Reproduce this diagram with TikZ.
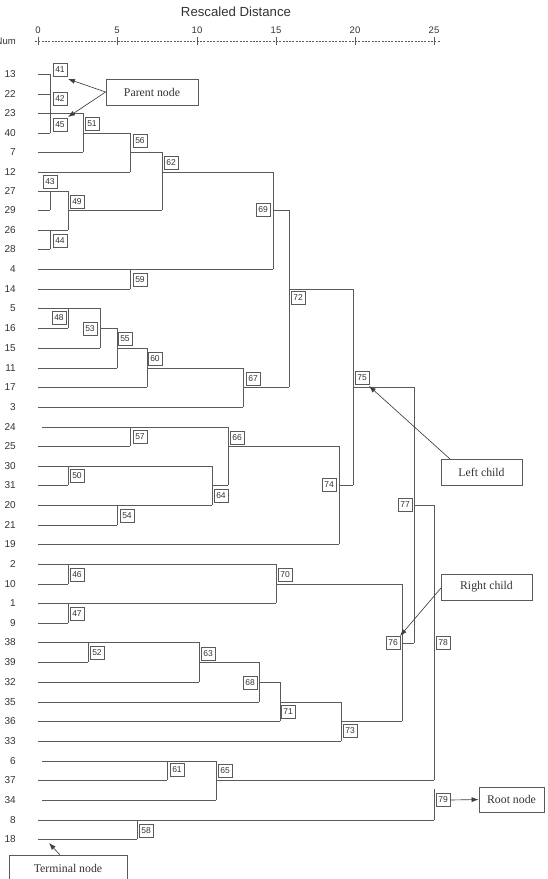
\documentclass[tikz,border=0pt]{standalone}
\usepackage{fontspec}
\setmainfont{Liberation Sans}
\newfontfamily\calloutfont{Liberation Serif}
\usetikzlibrary{arrows.meta}
\definecolor{linecol}{HTML}{5A5A5A}
\definecolor{textcol}{HTML}{333333}
\tikzset{
  dline/.style={draw=linecol, line width=0.85pt},
  leaf/.style={anchor=east, inner sep=0pt, text=textcol, font=\fontsize{10}{10}\selectfont},
  clbox/.style={draw=linecol, line width=0.75pt, minimum width=14pt, minimum height=13pt, inner sep=0pt, text=textcol, font=\fontsize{8.5}{8.5}\selectfont, fill=white},
  callout/.style={draw=linecol, line width=0.75pt, inner sep=0pt, text=textcol, font=\calloutfont\fontsize{11.8}{11.8}\selectfont, fill=white},
  pointer/.style={draw=linecol!70!black, line width=0.65pt, -{Latex[length=7pt,width=5pt]}},
  axislab/.style={inner sep=0pt, text=textcol, font=\fontsize{9.5}{9.5}\selectfont}
}
\begin{document}
\begin{tikzpicture}[x=1pt,y=-1pt]
\useasboundingbox (0,0) rectangle (547,879);
\clip (0,0) rectangle (547,879);
% title and axis
\node[axislab, font=\fontsize{13.2}{13.2}\selectfont] (title) at (236,12) {Rescaled Distance};
\node[axislab, anchor=east] (num) at (16,41) {Num};
\draw[linecol, line width=0.5pt, dash pattern=on 2pt off 1.3pt] (35,41) -- (440,41);
\foreach \v/\x in {0/38,5/117,10/197,15/276,20/355,25/434}{
  \draw[linecol, line width=0.6pt] (\x,37) -- (\x,45);
  \node[axislab] (tick\v) at (\x,30) {\v};
}
% leaf labels
\foreach \n/\y in {13/74,22/94,23/113,40/133,7/152,12/172,27/191,29/210,26/230,28/249,4/269,14/289,5/308,16/328,15/348,11/368,17/387,3/407,24/427,25/446,30/466,31/485,20/505,21/525,19/544,2/564,10/584,1/603,9/623,38/642,39/662,32/682,35/702,36/721,33/741,6/761,37/780,34/800,8/820,18/839}{
  \node[leaf] (L\n) at (16,\y) {\n};
}
% horizontal segments x1/x2/y
\foreach \a/\b/\y in {38/50/74, 38/50/94, 38/83/113, 38/50/133, 83/130/133,
  38/83/152, 130/162/152, 38/130/172, 162/273/172, 38/68/191, 38/50/210, 68/162/210, 273/289/210,
  38/68/230, 38/50/249, 38/273/269, 38/130/289, 289/353/289,
  38/100/308, 38/68/328, 100/117/328, 38/100/348, 117/147/348, 38/117/368, 147/243/368,
  38/147/387, 243/289/387, 353/414/387, 38/243/407,
  42/228/427, 38/130/446, 228/339/446, 38/212/466, 38/68/485, 212/228/485, 339/353/485,
  38/212/505, 414/434/505, 38/117/525, 38/339/544,
  38/276/564, 38/68/584, 276/402/584, 38/276/603, 38/68/623,
  38/199/642, 402/414/643, 38/88/662, 199/259/662, 38/199/682, 259/280/682,
  38/259/702, 280/341/702, 38/280/721, 341/402/721, 38/341/741,
  42/216/761, 38/167/780, 216/434/780, 42/216/800, 38/434/820, 38/137/839}{
  \draw[dline] (\a,\y) -- (\b,\y);
}
% vertical segments x/y1/y2
\foreach \x/\a/\b in {50/74/133, 83/113/152, 130/133/172, 162/152/210, 50/191/210, 68/191/230,
  50/230/249, 273/172/269, 130/269/289, 289/210/387, 68/308/328, 100/308/348, 117/328/368,
  147/348/387, 243/368/407, 130/427/446, 228/427/485, 68/466/485, 212/466/505, 117/505/525,
  339/446/544, 353/289/485, 68/564/584, 276/564/603, 68/603/623, 88/642/662, 199/642/682,
  259/662/702, 280/682/721, 402/584/721, 341/702/741, 414/387/643, 434/505/780,
  167/761/780, 216/761/800, 434/789/820, 137/820/839}{
  \draw[dline] (\x,\a) -- (\x,\b);
}
% cluster boxes
\foreach \n/\x/\y in {41/60/70, 42/60/99, 45/60/125, 51/92/124, 56/140/141, 62/171/163,
  43/50/182, 49/77/202, 44/60/241, 69/263/210, 59/140/280, 72/298/298, 48/59/318, 53/90/329,
  55/125/339, 60/155/359, 67/253/379, 75/362/378, 57/140/437, 66/237/438, 50/77/476,
  74/329/485, 64/221/496, 77/405/505, 54/127/516, 46/77/575, 70/285/575, 47/77/614,
  76/393/643, 78/443/643, 52/97/653, 63/208/654, 68/250/683, 71/288/712, 73/350/731,
  61/177/770, 65/225/771, 79/443/800, 58/146/831}{
  \node[clbox] (b\n) at (\x,\y) {\n};
}
% callouts
\node[callout, minimum width=92pt, minimum height=26pt] (parent) at (152,92) {Parent node};
\node[callout, minimum width=118pt, minimum height=26pt] (terminal) at (68,868) {Terminal node};
\node[callout, minimum width=81pt, minimum height=26pt] (leftchild) at (481.5,472) {Left child};
\node[callout, minimum width=91pt, minimum height=26pt] (rightchild) at (486.5,587) {Right child};
\node[callout, minimum width=65pt, minimum height=25pt] (root) at (511.5,799.5) {Root node};
% pointer targets
\coordinate (t41) at (68,79);
\coordinate (t45) at (68,117);
\coordinate (tterm) at (49,843);
\coordinate (sterm) at (60,855);
\coordinate (t75) at (369,386);
\coordinate (sleft) at (450,459);
\coordinate (t76) at (400,636);
\coordinate (sright) at (441,588);
\draw[pointer] (parent.west) -- (t41);
\draw[pointer] (parent.west) -- (t45);
\draw[pointer] (sterm) -- (tterm);
\draw[pointer] (sleft) -- (t75);
\draw[pointer] (sright) -- (t76);
\draw[pointer] (b79.east) -- (root.west);
\end{tikzpicture}
\end{document}
